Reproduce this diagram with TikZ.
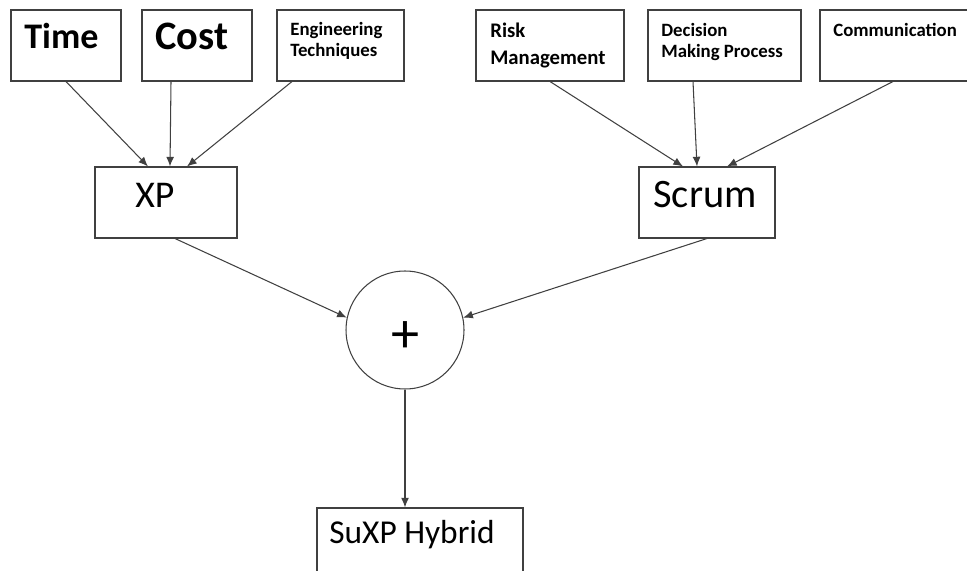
\documentclass[tikz,border=0pt]{standalone}
\usepackage{fontspec}
\setmainfont{Carlito}
\usetikzlibrary{arrows.meta}

\begin{document}
\begin{tikzpicture}[x=0.02cm, y=-0.02cm,
  box/.style={draw=black!75, line width=0.6pt, minimum height=1.42cm, inner sep=0pt},
  arr/.style={draw=black!75, line width=0.6pt, -{Latex[length=5.5pt,width=4.5pt]}},
  big/.style={font=\fontsize{20.5}{24}\selectfont\bfseries, anchor=base west, inner sep=0pt},
  small/.style={font=\fontsize{10.7}{12}\selectfont\bfseries, anchor=north west, align=left, inner sep=0pt},
  mid/.style={font=\fontsize{21.5}{25}\selectfont, anchor=base west, inner sep=0pt}]
\useasboundingbox (0,0) rectangle (967,571);
\node[box, minimum width=2.2cm] (time) at (66,45.5) {};
\node[box, minimum width=2.2cm] (cost) at (197,45.5) {};
\node[box, minimum width=2.54cm] (eng) at (340.5,45.5) {};
\node[box, minimum width=2.96cm] (risk) at (550,45.5) {};
\node[box, minimum width=3.06cm] (decision) at (724.5,45.5) {};
\node[box, minimum width=3.4cm] (comm) at (905,45.5) {};
\node[big] (timetext) at (24,49) {Time};
\node[big, font=\fontsize{23}{26}\selectfont\bfseries] (costtext) at (155,50) {Cost};
\node[small] (engtext) at (290,22) {Engineering\\Techniques};
\node[small, font=\fontsize{11.8}{14}\selectfont\bfseries] (risktext) at (490,23) {Risk\\[1pt]Management};
\node[small] (decisiontext) at (661,23) {Decision\\Making Process};
\node[small] (commtext) at (833,23) {Communication};
\node[box, minimum width=2.84cm] (xp) at (166,202.5) {};
\node[box, minimum width=2.72cm] (scrum) at (707,202.5) {};
\node[mid] (xptext) at (135,207) {XP};
\node[mid, font=\fontsize{23}{26}\selectfont] (scrumtext) at (653,207) {Scrum};
\node[draw=black!75, line width=0.6pt, circle, minimum size=2.36cm, inner sep=0pt,
  text height=26pt, text depth=0pt, font=\fontsize{32}{34}\selectfont] (plus) at (405,330) {+};
\node[box, minimum width=4.12cm, minimum height=1.44cm] (hybrid) at (420,544) {};
\node[mid, font=\fontsize{19}{22}\selectfont] (hybridtext) at (329,543) {SuXP Hybrid};
\draw[arr] (time.south) -- ([xshift=-0.36cm]xp.north);
\draw[arr] ([xshift=-0.52cm]cost.south) -- ([xshift=0.08cm]xp.north);
\draw[arr] ([xshift=-0.97cm]eng.south) -- ([xshift=0.42cm]xp.north);
\draw[arr] (risk.south) -- ([xshift=-0.48cm]scrum.north);
\draw[arr] ([xshift=-0.63cm]decision.south) -- ([xshift=-0.2cm]scrum.north);
\draw[arr] ([xshift=-0.24cm]comm.south) -- ([xshift=0.4cm]scrum.north);
\draw[arr] ([xshift=0.18cm]xp.south) -- (plus.168);
\draw[arr] (scrum.south) -- (plus.12);
\draw[arr] (plus.south) -- (plus.south |- hybrid.north);
\end{tikzpicture}
\end{document}
